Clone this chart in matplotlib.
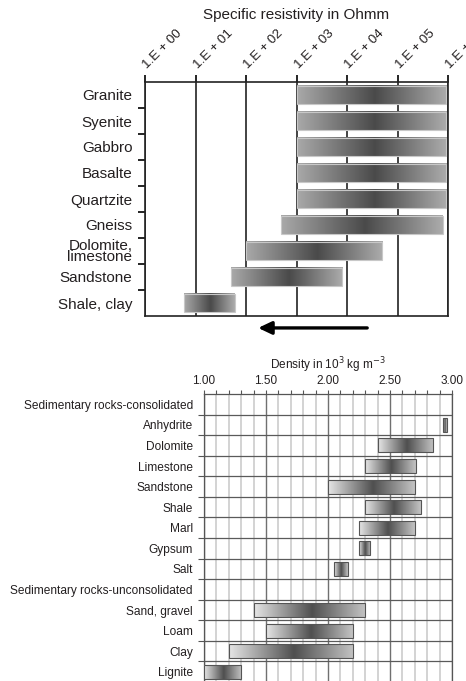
import numpy as np
import matplotlib
matplotlib.use("Agg")
import matplotlib.pyplot as plt
from matplotlib.colors import LinearSegmentedColormap
from matplotlib.patches import Rectangle
from matplotlib.ticker import FixedLocator, MultipleLocator

plt.rcParams['font.family'] = ['Liberation Sans', 'DejaVu Sans']
TXT = '#231f20'

# resistivity ranges (Ohm m)
rocks_res = ['Granite', 'Syenite', 'Gabbro', 'Basalte', 'Quartzite', 'Gneiss',
             'Dolomite,\nlimestone', 'Sandstone', 'Shale, clay']
res_low = [1e3, 1e3, 1e3, 1e3, 1e3, 5e2, 1e2, 50, 6]
res_high = [9e5, 9e5, 9e5, 9e5, 9e5, 8e5, 5e4, 8e3, 60]
res_exp = [0, 1, 2, 3, 4, 5, 6]

# density ranges (10^3 kg/m^3), headings have no range
rocks_den = ['Sedimentary rocks-consolidated', 'Anhydrite', 'Dolomite', 'Limestone',
             'Sandstone', 'Shale', 'Marl', 'Gypsum', 'Salt',
             'Sedimentary rocks-unconsolidated', 'Sand, gravel', 'Loam', 'Clay', 'Lignite']
den_low = [np.nan, 2.93, 2.40, 2.30, 2.00, 2.30, 2.25, 2.25, 2.05, np.nan, 1.40, 1.50, 1.20, 1.00]
den_high = [np.nan, 2.96, 2.85, 2.71, 2.70, 2.75, 2.70, 2.34, 2.16, np.nan, 2.30, 2.20, 2.20, 1.30]
den_ticks = [1.00, 1.50, 2.00, 2.50, 3.00]

cmap_top = LinearSegmentedColormap.from_list(
    'top', [(0, '#a9a9a9'), (0.52, '#4a4a4a'), (1, '#acacac')])
cmap_bot = LinearSegmentedColormap.from_list(
    'bot', [(0, '#e6e6e6'), (0.52, '#4f4f4f'), (1, '#c4c4c4')])


def shaded_bar(ax, x0, x1, y, h, cmap, edge, lw):
    grad = np.linspace(0, 1, 256).reshape(1, -1)
    ax.imshow(grad, cmap=cmap, extent=(x0, x1, y + h / 2, y - h / 2),
              aspect='auto', interpolation='bilinear', zorder=3)
    ax.add_patch(Rectangle((x0, y - h / 2), x1 - x0, h, fill=False,
                           edgecolor=edge, lw=lw, zorder=4))


fig = plt.figure(figsize=(4.66, 6.81), dpi=100)

# ---- resistivity panel ----
ax1 = fig.add_axes([145 / 466, 1 - 316 / 681, 303 / 466, 234 / 681])
for i in range(len(rocks_res)):
    shaded_bar(ax1, np.log10(res_low[i]), np.log10(res_high[i]), i, 0.7,
               cmap_top, '#c8c8c8', 0.8)
ax1.set_xlim(0, 6)
ax1.set_ylim(len(rocks_res) - 0.5, -0.5)
ax1.xaxis.tick_top()
ax1.set_xticks(res_exp)
ax1.set_xticklabels(['1.E + %02d' % e for e in res_exp], rotation=45,
                    ha='left', va='center', rotation_mode='anchor',
                    fontsize=9.5, color=TXT)
ax1.tick_params(axis='x', direction='out', length=5, width=1.2, pad=6)
ax1.set_yticks(range(len(rocks_res)))
ax1.set_yticklabels(rocks_res, fontsize=11, color=TXT, linespacing=0.8)
ax1.tick_params(axis='y', which='major', length=0, pad=9)
ax1.yaxis.set_minor_locator(FixedLocator(np.arange(0.5, len(rocks_res) - 1, 1)))
ax1.tick_params(axis='y', which='minor', direction='out', length=5, width=1.2)
ax1.grid(axis='x', color='#222222', lw=1.2, zorder=1)
for s in ax1.spines.values():
    s.set_linewidth(1.2)
    s.set_color('#222222')
ax1.text(0.5, 1 + 67 / 234, 'Specific resistivity in Ohmm', transform=ax1.transAxes,
         ha='center', va='center', fontsize=11, color=TXT)
ax1.annotate('', xy=(2.24, -0.051), xytext=(4.4, -0.051),
             xycoords=('data', 'axes fraction'), textcoords=('data', 'axes fraction'),
             arrowprops=dict(arrowstyle='-|>,head_length=0.8,head_width=0.38',
                             lw=2.4, color='black', shrinkA=0, shrinkB=0),
             annotation_clip=False)

# ---- density panel ----
ax2 = fig.add_axes([204 / 466, 1 - 682 / 681, 248 / 466, 288 / 681])
for i in range(len(rocks_den)):
    if np.isnan(den_low[i]):
        continue
    shaded_bar(ax2, den_low[i], den_high[i], i, 0.68, cmap_bot, '#555555', 0.8)
ax2.set_xlim(1, 3)
ax2.set_ylim(len(rocks_den) - 0.5, -0.5)
ax2.xaxis.tick_top()
ax2.set_xticks(den_ticks)
ax2.set_xticklabels(['%.2f' % t for t in den_ticks], fontsize=8.5, color=TXT)
ax2.xaxis.set_minor_locator(MultipleLocator(0.1))
ax2.tick_params(axis='x', which='both', direction='out', length=3, width=0.8,
                color='#555555', pad=2)
ax2.grid(axis='x', which='minor', color='#c8c8c8', lw=1.1, zorder=1)
ax2.grid(axis='x', which='major', color='#707070', lw=1.0, zorder=1)
ax2.set_yticks(range(len(rocks_den)))
ax2.set_yticklabels(rocks_den, fontsize=8.6, color=TXT)
ax2.tick_params(axis='y', which='major', length=0, pad=8)
ax2.yaxis.set_minor_locator(FixedLocator(np.arange(0.5, len(rocks_den) - 1, 1)))
ax2.tick_params(axis='y', which='minor', direction='out', length=4, width=0.8,
                color='#555555')
ax2.grid(axis='y', which='minor', color='#5a5a5a', lw=0.9, zorder=1)
for s in ax2.spines.values():
    s.set_linewidth(0.9)
    s.set_color('#555555')
ax2.text(0.5, 1 + 29 / 288, 'Density in 10$^3$ kg m$^{-3}$', transform=ax2.transAxes,
         ha='center', va='center', fontsize=8.5, color=TXT)

fig.savefig('out.png', dpi=100)
